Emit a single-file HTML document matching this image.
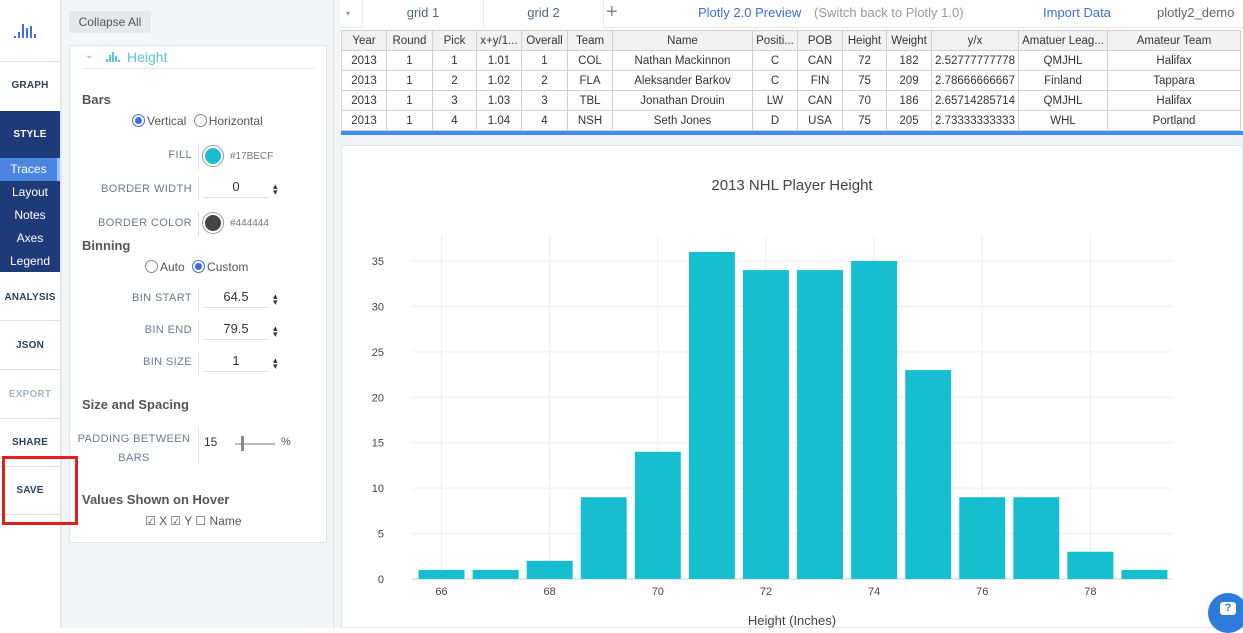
<!DOCTYPE html>
<html><head><meta charset="utf-8">
<style>
*{box-sizing:border-box;margin:0;padding:0}
body{width:1243px;height:628px;overflow:hidden;background:#fff;font-family:"Liberation Sans",sans-serif;position:relative;color:#444}
.abs{position:absolute}
.nav{left:0;top:0;width:62px;height:628px;background:#fff;border-right:2px solid #e3e6ea}
.navitem{position:absolute;left:0;width:60px;text-align:center;font-size:10px;font-weight:bold;color:#2a3f5f;letter-spacing:.2px}
.sep{position:absolute;left:0;width:60px;height:1px;background:#dfe3e8}
.sub{position:absolute;left:0;width:60px;height:23px;line-height:23px;text-align:center;font-size:12px;color:#fff}
.panel{left:62px;top:0;width:272px;height:628px;background:#f3f5f7;border-right:1px solid #dfe3e8}
.lbl{position:absolute;font-size:11px;color:#6b7a8c;letter-spacing:.4px;text-align:right}
.h{position:absolute;font-size:13px;font-weight:bold;color:#555}
.radio{display:inline-block;width:13px;height:13px;border-radius:50%;border:1px solid #888;vertical-align:-2px;margin-right:2px;background:#fff}
.radio.on{border-color:#4a6fd8;box-shadow:inset 0 0 0 2px #fff;background:#3d6ee0}
.vbar{position:absolute;width:1px;background:#dfe3e8}
.num{position:absolute;font-size:13px;color:#333;text-align:center;border-bottom:1px solid #dfe3e8}
.spin{position:absolute;font-size:9px;color:#333;line-height:6px}
table{border-collapse:collapse;position:absolute;left:341px;top:30px;font-size:11.5px;color:#333}
td{border:1px solid #d0d0d0;height:20px;text-align:center;padding:0;white-space:nowrap;overflow:hidden}
tr.hd td{background:#f2f2f2}
</style></head><body>
<div class="abs nav">
  <svg class="abs" style="left:14px;top:22px" width="26" height="18">
    <rect x="0" y="14" width="2" height="2" fill="#3d6ee0"/><rect x="4" y="10" width="2" height="6" fill="#3d6ee0"/><rect x="8" y="2" width="2" height="14" fill="#3d6ee0"/><rect x="12" y="6" width="2" height="10" fill="#3d6ee0"/><rect x="16" y="4" width="2" height="12" fill="#3d6ee0"/><rect x="20" y="12" width="2" height="4" fill="#3d6ee0"/></svg>
  <div class="sep" style="top:61px"></div>
  <div class="navitem" style="top:80px">GRAPH</div>
  <div class="abs" style="left:0;top:111px;width:60px;height:161px;background:#1e3a78"></div>
  <div class="navitem" style="top:129px;color:#fff">STYLE</div>
  <div class="sub" style="top:158px;background:#4a86e0;border-right:3px solid #9cc4f5">Traces</div>
  <div class="sub" style="top:181px">Layout</div>
  <div class="sub" style="top:204px">Notes</div>
  <div class="sub" style="top:227px">Axes</div>
  <div class="sub" style="top:250px">Legend</div>
  <div class="navitem" style="top:292px">ANALYSIS</div>
  <div class="sep" style="top:320px"></div>
  <div class="navitem" style="top:340px">JSON</div>
  <div class="sep" style="top:369px"></div>
  <div class="navitem" style="top:389px;color:#aab4c0">EXPORT</div>
  <div class="sep" style="top:418px"></div>
  <div class="navitem" style="top:437px">SHARE</div>
  <div class="sep" style="top:466px"></div>
  <div class="navitem" style="top:485px">SAVE</div>
  <div class="sep" style="top:514px"></div>
</div>

<div class="abs panel">
  <div class="abs" style="left:7px;top:11px;width:82px;height:22px;background:#e6e8eb;border-radius:3px;font-size:12px;line-height:22px;text-align:center;color:#555">Collapse All</div>
  <div class="abs" style="left:7px;top:45px;width:258px;height:498px;background:#fff;border:1px solid #e0e3e7">
    <div class="abs" style="left:12px;top:22px;width:232px;height:1px;background:#e3e6ea"></div>
    <div class="abs" style="left:15px;top:4px;font-size:10px;color:#999">⌄</div>
    <svg class="abs" style="left:36px;top:6px" width="14" height="10"><rect x="0" y="7" width="2" height="3" fill="#5bc8d6"/><rect x="3" y="3" width="2" height="7" fill="#5bc8d6"/><rect x="6" y="0" width="2" height="10" fill="#5bc8d6"/><rect x="9" y="4" width="2" height="6" fill="#5bc8d6"/><rect x="12" y="8" width="2" height="2" fill="#5bc8d6"/></svg>
    <div class="abs" style="left:57px;top:3px;font-size:14px;color:#56c6d6">Height</div>
  </div>
  <div class="h" style="left:20px;top:92px">Bars</div>
  <div class="abs" style="left:70px;top:114px;font-size:12px;color:#555"><span class="radio on"></span>Vertical <span class="radio" style="margin-left:4px"></span>Horizontal</div>
  <div class="lbl" style="left:30px;top:149px;width:100px">FILL</div>
  <div class="vbar" style="left:136px;top:144px;height:26px"></div>
  <div class="abs" style="left:141px;top:146px;width:20px;height:20px;border-radius:50%;background:#17becf;border:2px solid #fff;box-shadow:0 0 0 1px #999"></div>
  <div class="abs" style="left:168px;top:151px;font-size:10px;color:#777">#17BECF</div>
  <div class="lbl" style="left:30px;top:183px;width:100px">BORDER WIDTH</div>
  <div class="vbar" style="left:136px;top:177px;height:24px"></div>
  <div class="num" style="left:141px;top:179px;width:66px;height:19px">0</div>
  <div class="spin" style="left:211px;top:183px">▴<br>▾</div>
  <div class="lbl" style="left:30px;top:217px;width:100px">BORDER COLOR</div>
  <div class="vbar" style="left:136px;top:211px;height:26px"></div>
  <div class="abs" style="left:141px;top:213px;width:20px;height:20px;border-radius:50%;background:#444;border:2px solid #fff;box-shadow:0 0 0 1px #999"></div>
  <div class="abs" style="left:168px;top:218px;font-size:10px;color:#777">#444444</div>
  <div class="h" style="left:20px;top:238px">Binning</div>
  <div class="abs" style="left:83px;top:260px;font-size:12px;color:#555"><span class="radio"></span>Auto <span class="radio on" style="margin-left:4px"></span>Custom</div>
  <div class="lbl" style="left:30px;top:292px;width:100px">BIN START</div>
  <div class="vbar" style="left:136px;top:287px;height:24px"></div>
  <div class="num" style="left:141px;top:289px;width:66px;height:19px">64.5</div>
  <div class="spin" style="left:211px;top:293px">▴<br>▾</div>
  <div class="lbl" style="left:30px;top:324px;width:100px">BIN END</div>
  <div class="vbar" style="left:136px;top:319px;height:24px"></div>
  <div class="num" style="left:141px;top:321px;width:66px;height:19px">79.5</div>
  <div class="spin" style="left:211px;top:325px">▴<br>▾</div>
  <div class="lbl" style="left:30px;top:356px;width:100px">BIN SIZE</div>
  <div class="vbar" style="left:136px;top:351px;height:24px"></div>
  <div class="num" style="left:141px;top:353px;width:66px;height:19px">1</div>
  <div class="spin" style="left:211px;top:357px">▴<br>▾</div>
  <div class="h" style="left:20px;top:397px">Size and Spacing</div>
  <div class="lbl" style="left:14px;top:430px;width:116px;line-height:19px;text-align:center">PADDING BETWEEN BARS</div>
  <div class="vbar" style="left:136px;top:428px;height:36px"></div>
  <div class="abs" style="left:142px;top:435px;font-size:12px;color:#333">15</div>
  <div class="abs" style="left:173px;top:443px;width:40px;height:2px;background:#bbb"></div>
  <div class="abs" style="left:179px;top:436px;width:3px;height:15px;background:#888"></div>
  <div class="abs" style="left:219px;top:436px;font-size:11px;color:#555">%</div>
  <div class="h" style="left:20px;top:492px">Values Shown on Hover</div>
  <div class="abs" style="left:83px;top:514px;font-size:12px;color:#555">☑ X ☑ Y ☐ Name</div>
</div>
<div class="abs" style="left:2px;top:456px;width:76px;height:69px;border:3px solid #e0201e;z-index:5"></div>

<div class="abs" style="left:334px;top:0;width:909px;height:628px;background:#f3f5f7"></div>
<div class="abs" style="left:340px;top:0;width:903px;height:28px;background:#fff;border-bottom:1px solid #e3e6ea">
  <div class="abs" style="left:6px;top:9px;font-size:8px;color:#999">▾</div>
  <div class="abs" style="left:22px;top:0;width:121px;height:28px;border-left:1px solid #eee;font-size:13px;line-height:26px;text-align:center;color:#506784;background:#fff">grid 1</div>
  <div class="abs" style="left:143px;top:0;width:121px;height:29px;font-size:13px;line-height:26px;text-align:center;color:#506784;background:#fff;border-left:1px solid #eee;border-right:1px solid #eee">grid 2</div>
  <div class="abs" style="left:266px;top:1px;font-size:20px;color:#888">+</div>
  <div class="abs" style="left:358px;top:5px;font-size:13px;color:#3d6ee0">Plotly 2.0 Preview</div>
  <div class="abs" style="left:474px;top:5px;font-size:13px;color:#999">(Switch back to Plotly 1.0)</div>
  <div class="abs" style="left:703px;top:5px;font-size:13px;color:#3d6ee0">Import Data</div>
  <div class="abs" style="left:817px;top:5px;font-size:13px;color:#666">plotly2_demo</div>
</div>
<div class="abs" style="left:340px;top:28px;width:903px;height:106px;background:#fff"></div>
<table>
<colgroup><col style="width:45px"><col style="width:46px"><col style="width:44px"><col style="width:45px"><col style="width:46px"><col style="width:45px"><col style="width:140px"><col style="width:45px"><col style="width:45px"><col style="width:44px"><col style="width:45px"><col style="width:87px"><col style="width:89px"><col style="width:133px"></colgroup>
<tr class="hd"><td>Year</td><td>Round</td><td>Pick</td><td>x+y/1...</td><td>Overall</td><td>Team</td><td>Name</td><td>Positi...</td><td>POB</td><td>Height</td><td>Weight</td><td>y/x</td><td>Amatuer Leag...</td><td>Amateur Team</td></tr>
<tr><td>2013</td><td>1</td><td>1</td><td>1.01</td><td>1</td><td>COL</td><td>Nathan Mackinnon</td><td>C</td><td>CAN</td><td>72</td><td>182</td><td>2.52777777778</td><td>QMJHL</td><td>Halifax</td></tr>
<tr><td>2013</td><td>1</td><td>2</td><td>1.02</td><td>2</td><td>FLA</td><td>Aleksander Barkov</td><td>C</td><td>FIN</td><td>75</td><td>209</td><td>2.78666666667</td><td>Finland</td><td>Tappara</td></tr>
<tr><td>2013</td><td>1</td><td>3</td><td>1.03</td><td>3</td><td>TBL</td><td>Jonathan Drouin</td><td>LW</td><td>CAN</td><td>70</td><td>186</td><td>2.65714285714</td><td>QMJHL</td><td>Halifax</td></tr>
<tr><td>2013</td><td>1</td><td>4</td><td>1.04</td><td>4</td><td>NSH</td><td>Seth Jones</td><td>D</td><td>USA</td><td>75</td><td>205</td><td>2.73333333333</td><td>WHL</td><td>Portland</td></tr>
</table>
<div class="abs" style="left:341px;top:131px;width:902px;height:4px;background:#3d8ee8"></div>

<div class="abs" style="left:341px;top:145px;width:902px;height:483px;background:#fff;border:1px solid #e3e6ea"></div>
<svg class="abs" style="left:0;top:0" width="1243" height="628" id="chart">
  <text x="792" y="190" text-anchor="middle" font-size="15" fill="#444" font-family="Liberation Sans, sans-serif">2013 NHL Player Height</text>
  <text x="792" y="625" text-anchor="middle" font-size="13" fill="#444" font-family="Liberation Sans, sans-serif">Height (Inches)</text>
  <g id="grid"></g><g id="bars"></g><g id="ticks"></g>
</svg>
<div class="abs" style="left:1208px;top:593px;width:40px;height:40px;border-radius:50%;background:#2f7bd9"></div>
<div class="abs" style="left:1220px;top:602px;width:16px;height:13px;background:#fff;border-radius:3px;color:#2f7bd9;font-size:11px;font-weight:bold;text-align:center;line-height:13px">?</div>

<script>
const categories = [66,67,68,69,70,71,72,73,74,75,76,77,78,79];
const counts = [1,1,2,9,14,36,34,34,35,23,9,9,3,1];
const yTicks = [0,5,10,15,20,25,30,35];
const xTicks = [66,68,70,72,74,76,78];
const NS='http://www.w3.org/2000/svg';
const X0=414.5,X1=1171.5,XMIN=65.5,XMAX=79.5,Y0=579,YTOP=235,YPER=(579-261)/35;
const xs=v=>X0+(v-XMIN)*(X1-X0)/(XMAX-XMIN);
const ys=v=>Y0-v*YPER;
const g=document.getElementById('grid'),b=document.getElementById('bars'),t=document.getElementById('ticks');
function mk(tag,at,parent){const e=document.createElementNS(NS,tag);for(const k in at)e.setAttribute(k,at[k]);parent.appendChild(e);return e;}
yTicks.forEach(v=>{
  const l=mk('line',{x1:412,x2:1172,y1:ys(v),y2:ys(v),stroke:v===0?'#ccc':'#eee','stroke-width':1},g);
  
  
  const tx=mk('text',{x:384,y:ys(v)+4,'text-anchor':'end','font-size':11,fill:'#444','font-family':'Liberation Sans, sans-serif'},t);
  tx.textContent=v;
  
  
});
xTicks.forEach(v=>{
  const l=mk('line',{x1:xs(v),x2:xs(v),y1:YTOP,y2:Y0,stroke:'#eee','stroke-width':1},g);
  
  
  const tx=mk('text',{x:xs(v),y:Y0+16,'text-anchor':'middle','font-size':11,fill:'#444','font-family':'Liberation Sans, sans-serif'},t);
  tx.textContent=v;
  
  
});
const unit=(X1-X0)/(XMAX-XMIN), bw=unit*0.85;
categories.forEach((c,i)=>{
  const r=mk('rect',{x:xs(c)-bw/2,y:ys(counts[i]),width:bw,height:Y0-ys(counts[i]),fill:'#17becf'},b);
  
  
});
</script>
</body></html>
